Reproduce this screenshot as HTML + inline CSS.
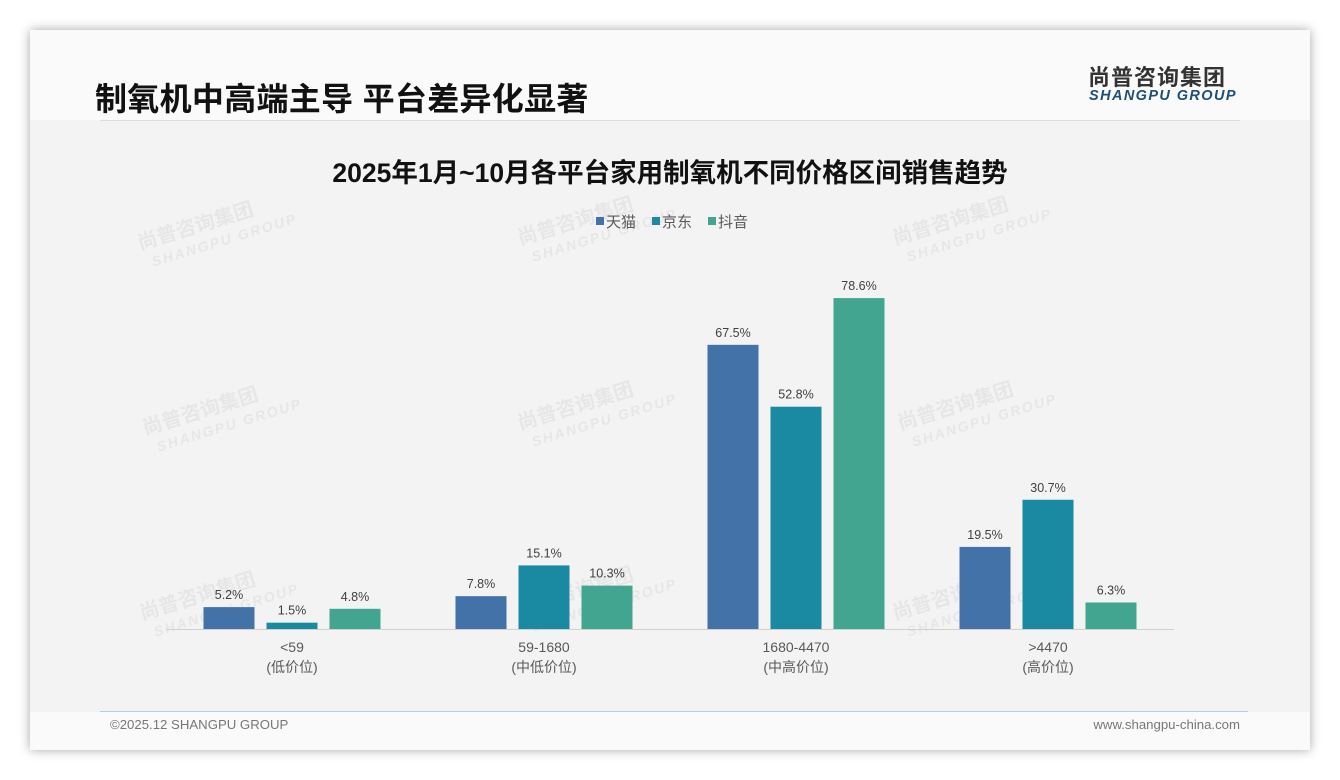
<!DOCTYPE html>
<html><head><meta charset="utf-8">
<style>
body{margin:0;width:1340px;height:780px;background:#fff;font-family:"Liberation Sans","Noto Sans CJK SC",sans-serif;position:relative;overflow:hidden}
#card{position:absolute;left:30px;top:30px;width:1280px;height:720px;background:#fafafa;box-shadow:0 0 10px rgba(0,0,0,0.35)}
#plotbg{position:absolute;left:30px;top:120px;width:1280px;height:592px;background:#f3f3f3}
.abs{position:absolute}
</style></head><body>
<div id="card"></div>
<div id="plotbg"></div>
<div class="abs" style="left:95px;top:74px;font-size:32px;font-weight:bold;color:#111;letter-spacing:0.3px">制氧机中高端主导 平台差异化显著</div>
<div class="abs" style="left:100px;top:120px;width:1140px;height:1px;background:#ddd"></div>
<div class="abs" style="left:1088px;top:60px;font-size:22px;font-weight:bold;color:#333;letter-spacing:1px">尚普咨询集团</div>
<div class="abs" style="left:1089px;top:88px;font-size:14.5px;font-weight:bold;font-style:italic;color:#1f4e79;letter-spacing:1.4px">SHANGPU GROUP</div>
<div class="abs" style="left:0;width:1340px;text-align:center;top:151px;font-size:26.5px;font-weight:bold;color:#111">2025年1月~10月各平台家用制氧机不同价格区间销售趋势</div>
<div class="abs" style="left:100px;top:711px;width:1148px;height:1px;background:#b8cce4"></div>
<div class="abs" style="left:110px;top:717px;font-size:13.2px;color:#777">©2025.12 SHANGPU GROUP</div>
<div class="abs" style="right:100px;top:717px;font-size:13.2px;color:#777">www.shangpu-china.com</div>
<svg id="chart" class="abs" style="left:0;top:0" width="1340" height="780"></svg>
<script>
const categories=["<59","59-1680","1680-4470",">4470"];
const subLabels=["(低价位)","(中低价位)","(中高价位)","(高价位)"];
const seriesNames=["天猫","京东","抖音"];
const tmall=[5.2,7.8,67.5,19.5];
const jd=[1.5,15.1,52.8,30.7];
const douyin=[4.8,10.3,78.6,6.3];
const colors=["#4272a8","#1a8aa2","#41a58f"];
const svg=document.getElementById('chart');
const NS='http://www.w3.org/2000/svg';
const baseY=629,pxPer=4.21,x0=166,x1=1174;
const groupW=(x1-x0)/categories.length;
function xCenter(i){return x0+groupW*(i+0.5);}
function yVal(v){return baseY-v*pxPer;}
function mk(tag,attrs){const e=document.createElementNS(NS,tag);for(const k in attrs)e.setAttribute(k,attrs[k]);svg.appendChild(e);return e;}
[[140,250],[520,245],[895,245],[145,435],[520,430],[900,430],[142,620],[520,615],[895,620]].forEach(p=>{
 const t=mk('text',{x:p[0],y:p[1],transform:`rotate(-17 ${p[0]} ${p[1]})`,'font-size':20,'font-weight':'bold',fill:'#000','fill-opacity':0.05});
 t.textContent='尚普咨询集团';
 
 
 const t2=mk('text',{x:p[0]+8,y:p[1]+20,transform:`rotate(-17 ${p[0]} ${p[1]})`,'font-size':14,'font-weight':'bold','font-style':'italic',fill:'#000','fill-opacity':0.05,'letter-spacing':2});
 t2.textContent='SHANGPU GROUP';
 
 
});
const axis=mk('line',{x1:x0,x2:x1,y1:baseY+0.5,y2:baseY+0.5,stroke:'#d0d0d0','stroke-width':1});


const series=[tmall,jd,douyin];
const barW=51,step=63;
series.forEach((s,si)=>{
 s.forEach((v,i)=>{
  const cx=xCenter(i)+(si-1)*step;
  const r=mk('rect',{x:cx-barW/2,y:yVal(v),width:barW,height:v*pxPer,fill:colors[si]});
  
  
  const t=mk('text',{x:cx,y:yVal(v)-8,'text-anchor':'middle','font-size':12.5,fill:'#404040'});
  t.textContent=v.toFixed(1)+'%';
  
  
 });
});
categories.forEach((c,i)=>{
 const t=mk('text',{x:xCenter(i),y:652,'text-anchor':'middle','font-size':14,fill:'#595959'});
 t.textContent=c;
 
 
 const t2=mk('text',{x:xCenter(i),y:672,'text-anchor':'middle','font-size':14,fill:'#595959'});
 t2.textContent=subLabels[i];
 
 
});
const legX=[596,652,708];
seriesNames.forEach((n,i)=>{
 const r=mk('rect',{x:legX[i],y:217,width:8,height:8,fill:colors[i]});
 
 
 const t=mk('text',{x:legX[i]+10,y:227,'font-size':15,fill:'#595959'});
 t.textContent=n;
 
 
});
</script>
</body></html>
